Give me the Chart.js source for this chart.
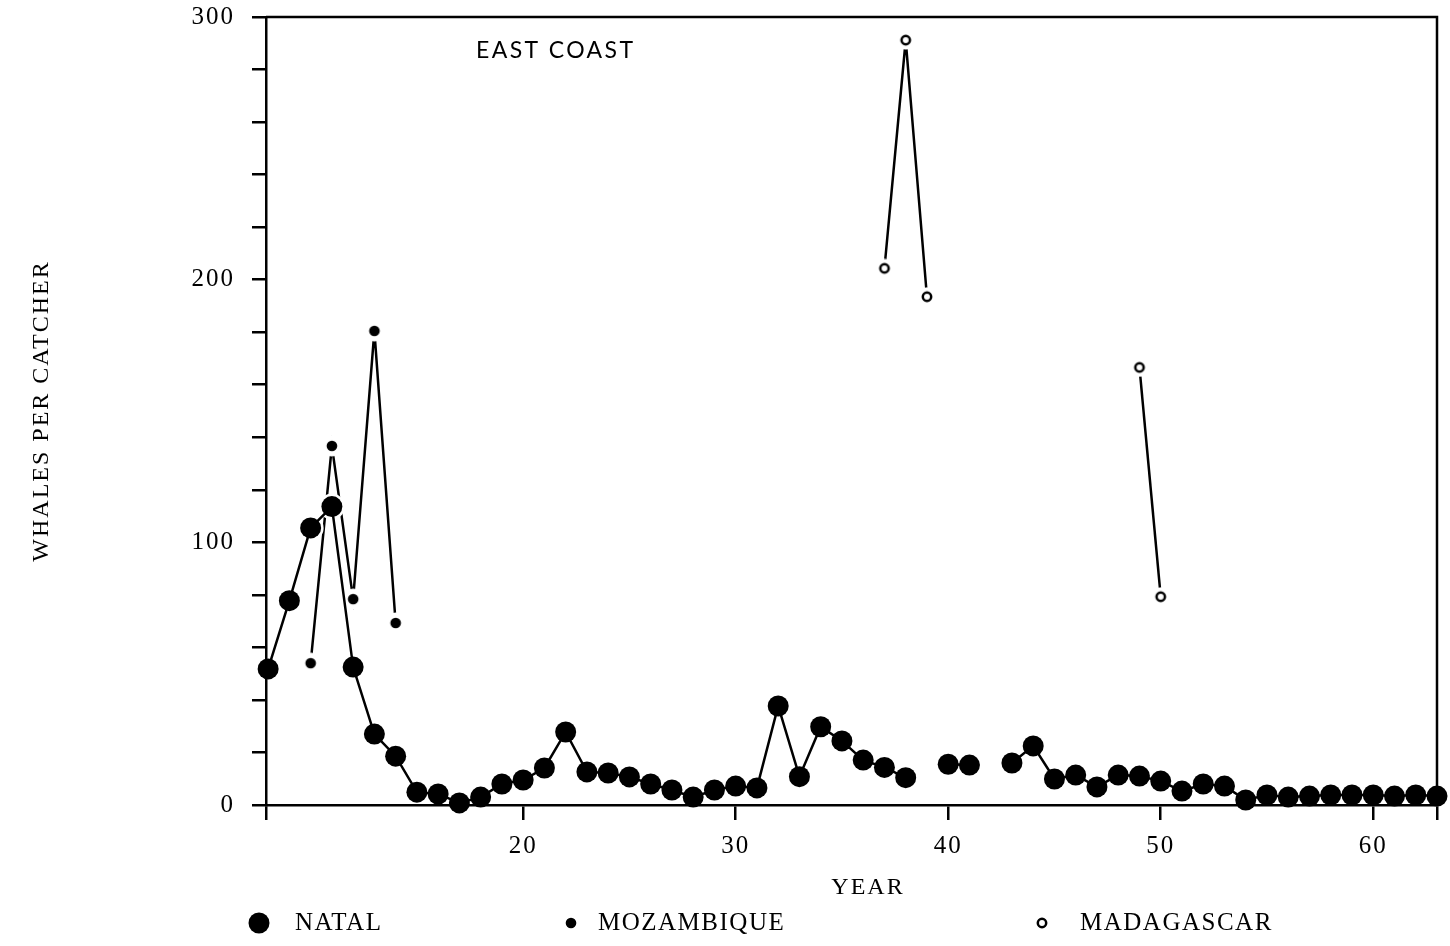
<!DOCTYPE html>
<html>
<head>
<meta charset="utf-8">
<title>East coast – whales per catcher</title>
<script src="https://cdn.jsdelivr.net/npm/chart.js@4/dist/chart.umd.min.js"></script>
<style>
  html, body { margin: 0; padding: 0; background: #fff; }
  canvas { display: block; }
</style>
</head>
<body>
<canvas id="chart" width="1450" height="946"></canvas>
<script>
// whales per catcher by season, east coast grounds
const natalYears = [8, 9, 10, 11, 12, 13, 14, 15, 16, 17, 18, 19, 20, 21, 22, 23, 24, 25, 26, 27,
    28, 29, 30, 31, 32, 33, 34, 35, 36, 37, 38, 40, 41, 43, 44, 45, 46, 47, 48, 49, 50, 51, 52,
    53, 54, 55, 56, 57, 58, 59, 60, 61, 62, 63];
const natal = [51.8, 77.8, 105.5, 113.6, 52.5, 27, 18.6, 4.9, 4.2, 0.8, 3, 8, 9.5, 14.1, 27.8,
    12.6, 12.2, 10.7, 8, 5.7, 3, 5.7, 7.2, 6.5, 37.7, 10.8, 29.8, 24.4, 17.1, 14.3, 10.4,
    15.5, 15.2, 16, 22.5, 9.9, 11.4, 6.9, 11.4, 11, 9.1, 5.3, 8, 7.2, 1.9, 3.8, 3, 3.4, 3.8,
    3.8, 3.8, 3.4, 3.8, 3.4];

const mozambiqueYears = [10, 11, 12, 13, 14];
const mozambique = [54, 136.7, 78.4, 180.5, 69.3];

const madagascarYears = [37, 38, 39, 49, 50];
const madagascar = [204.3, 291.2, 193.5, 166.6, 79.3];

const yLabels = [0, 100, 200, 300];
const xLabels = [20, 30, 40, 50, 60];
const xRange = [7.9, 63];

const INK = '#000';
const SERIF = '"Liberation Serif", "Times New Roman", serif';

// small canvases used as point styles: a dot or ring with a white collar,
// so lines stop just short of the marker
function marker(size, draw) {
    const c = document.createElement('canvas');
    c.width = c.height = size;
    const g = c.getContext('2d');
    g.translate(size / 2, size / 2);
    draw(g);
    return c;
}
function disc(g, r, color) {
    g.beginPath();
    g.arc(0, 0, r, 0, Math.PI * 2);
    g.fillStyle = color;
    g.fill();
}
const bigDot = marker(24, g => disc(g, 10.5, INK));
const smallDot = marker(22, g => { disc(g, 10.5, '#fff'); disc(g, 5.3, INK); });
const ring = marker(20, g => {
    disc(g, 9.5, '#fff');
    g.beginPath();
    g.arc(0, 0, 4.2, 0, Math.PI * 2);
    g.lineWidth = 2.5;
    g.strokeStyle = INK;
    g.stroke();
});

function points(xs, ys) {
    return xs.map((x, i) => ({ x: x, y: ys[i] }));
}

// no line between seasons that are not consecutive
function skipGaps(xs) {
    return ctx => (xs[ctx.p1DataIndex] - xs[ctx.p0DataIndex] > 1 ? 'rgba(0,0,0,0)' : undefined);
}

const legendItems = [
    { text: 'NATAL', icon: bigDot, x: 259, textX: 295 },
    { text: 'MOZAMBIQUE', icon: smallDot, x: 571, textX: 598 },
    { text: 'MADAGASCAR', icon: ring, x: 1042, textX: 1080 }
];

const spacing = {
    id: 'spacing',
    beforeDraw(chart) {
        chart.ctx.letterSpacing = '2px';
    }
};

const frame = {
    id: 'frame',
    afterDatasetsDraw(chart) {
        const { ctx, chartArea: a } = chart;
        ctx.save();
        ctx.strokeStyle = INK;
        ctx.lineWidth = 2.5;
        ctx.beginPath();
        ctx.moveTo(a.left, a.top);
        ctx.lineTo(a.right, a.top);
        ctx.lineTo(a.right, a.bottom);
        ctx.stroke();
        ctx.restore();
    }
};

const notes = {
    id: 'notes',
    afterDraw(chart) {
        const ctx = chart.ctx;
        ctx.save();
        ctx.fillStyle = INK;
        ctx.textBaseline = 'alphabetic';
        ctx.font = '23px Lato, "Open Sans", sans-serif';
        ctx.letterSpacing = '2.4px';
        ctx.fillText('EAST COAST', 476, 58);

        ctx.font = '24px ' + SERIF;
        ctx.letterSpacing = '2px';
        ctx.textAlign = 'center';
        ctx.fillText('YEAR', 868, 894);

        ctx.font = '25px ' + SERIF;
        ctx.letterSpacing = '1.5px';
        ctx.textAlign = 'left';
        legendItems.forEach(item => {
            ctx.drawImage(item.icon, item.x - item.icon.width / 2, 923 - item.icon.height / 2);
            ctx.fillText(item.text, item.textX, 930);
        });
        ctx.restore();
    }
};

Chart.defaults.font.family = SERIF;
Chart.defaults.color = INK;

new Chart(document.getElementById('chart'), {
    type: 'line',
    data: {
        datasets: [
            {
                label: 'NATAL',
                data: points(natalYears, natal),
                borderColor: INK,
                borderWidth: 2.5,
                pointStyle: 'circle',
                pointRadius: 10.5,
                pointBackgroundColor: INK,
                pointBorderWidth: 0,
                segment: { borderColor: skipGaps(natalYears) },
                clip: false,
                order: 1
            },
            {
                // white collar under the Natal dots, cuts the lines passing behind them
                label: 'natal-collar',
                data: points(natalYears, natal),
                showLine: false,
                pointStyle: 'circle',
                pointRadius: 13,
                pointBackgroundColor: '#fff',
                pointBorderWidth: 0,
                clip: false,
                order: 2
            },
            {
                label: 'MOZAMBIQUE',
                data: points(mozambiqueYears, mozambique),
                borderColor: INK,
                borderWidth: 2.5,
                pointStyle: smallDot,
                pointRadius: 6,
                segment: { borderColor: skipGaps(mozambiqueYears) },
                clip: false,
                order: 3
            },
            {
                label: 'MADAGASCAR',
                data: points(madagascarYears, madagascar),
                borderColor: INK,
                borderWidth: 2.5,
                pointStyle: ring,
                pointRadius: 6,
                segment: { borderColor: skipGaps(madagascarYears) },
                clip: false,
                order: 0
            }
        ]
    },
    options: {
        responsive: false,
        animation: false,
        events: [],
        layout: { padding: { left: 0, top: 17, right: 9, bottom: 45 } },
        plugins: {
            legend: { display: false },
            tooltip: { enabled: false }
        },
        scales: {
            x: {
                type: 'linear',
                min: xRange[0],
                max: xRange[1],
                afterBuildTicks: scale => {
                    scale.ticks = [xRange[0], ...xLabels, xRange[1]].map(v => ({ value: v }));
                },
                afterFit: scale => {
                    scale.height = 96;
                    scale.paddingLeft = 0;
                    scale.paddingRight = 0;
                },
                ticks: {
                    font: { size: 25 },
                    padding: 11,
                    maxRotation: 0,
                    autoSkip: false,
                    callback: v => (xLabels.includes(v) ? v : '')
                },
                grid: {
                    drawOnChartArea: false,
                    drawTicks: true,
                    tickLength: 15,
                    color: INK,
                    lineWidth: 2.5,
                    z: 1
                },
                border: { display: true, color: INK, width: 2.5, z: 1 }
            },
            y: {
                min: 0,
                max: 300,
                afterFit: scale => {
                    scale.width = 266;
                    scale.paddingTop = 0;
                    scale.paddingBottom = 0;
                },
                ticks: {
                    stepSize: 20,
                    font: { size: 25 },
                    padding: 17,
                    autoSkip: false,
                    callback: v => (yLabels.includes(v) ? v : '')
                },
                grid: {
                    drawOnChartArea: false,
                    drawTicks: true,
                    tickLength: 14,
                    color: INK,
                    lineWidth: 2.5,
                    z: 1
                },
                border: { display: true, color: INK, width: 2.5, z: 1 },
                title: {
                    display: true,
                    text: 'WHALES PER CATCHER',
                    font: { size: 24 },
                    padding: { top: 27, bottom: 0 }
                }
            }
        }
    },
    plugins: [spacing, frame, notes]
});
</script>
</body>
</html>
